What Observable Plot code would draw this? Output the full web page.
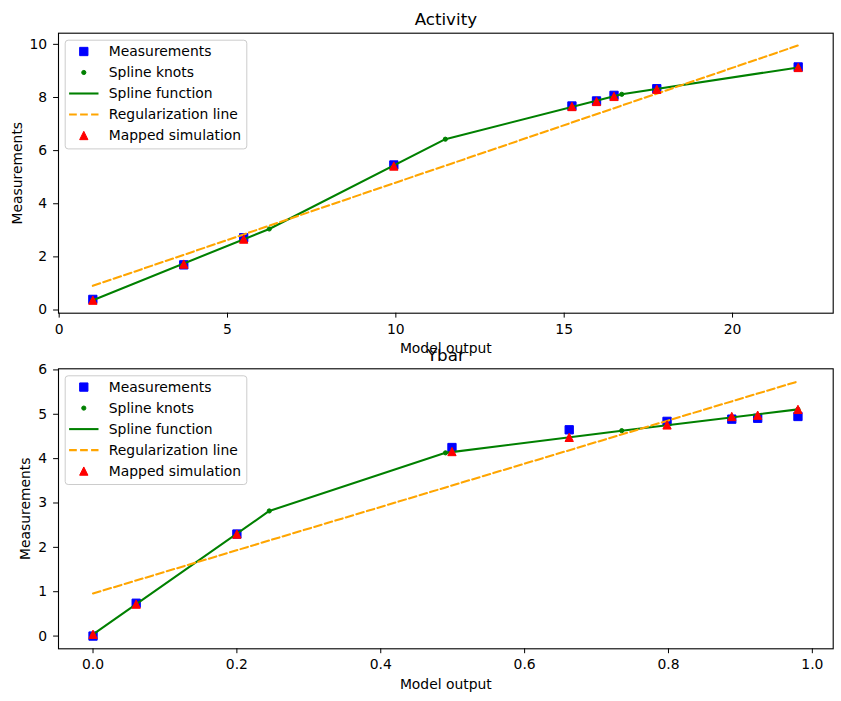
<!DOCTYPE html>
<html>
<head>
<meta charset="utf-8">
<script src="https://cdn.jsdelivr.net/npm/d3@7"></script>
<script src="https://cdn.jsdelivr.net/npm/@observablehq/plot@0.6"></script>
<style>
  html, body { margin: 0; padding: 0; background: white; }
  #figure { position: relative; width: 841px; height: 701px; }
  #figure svg { position: absolute; left: 0; top: 0; }
</style>
</head>
<body>
<div id="figure"></div>
<script>
// ---- Activity panel ----
const activityX = [1.0, 3.70, 5.48, 9.94, 15.23, 15.96, 16.48, 17.75, 21.95];
const activityMeasured = [0.40, 1.70, 2.72, 5.46, 7.68, 7.87, 8.08, 8.33, 9.15];
const activitySimulated = [0.37, 1.73, 2.67, 5.42, 7.66, 7.85, 8.04, 8.31, 9.13];
const activityKnotX = [1.0, 6.24, 11.47, 16.71, 21.95];
const activityKnotY = [0.37, 3.05, 6.43, 8.12, 9.13];
const activityRegX = [1.0, 21.95];
const activityRegY = [0.91, 9.96];
const activityXTicks = [0, 5, 10, 15, 20];
const activityYTicks = [0, 2, 4, 6, 8, 10];

// ---- Ybar panel ----
const ybarX = [0.0, 0.06, 0.20, 0.499, 0.662, 0.798, 0.888, 0.924, 0.98];
const ybarMeasured = [0.0, 0.74, 2.30, 4.25, 4.65, 4.84, 4.89, 4.91, 4.95];
const ybarSimulated = [0.04, 0.72, 2.30, 4.16, 4.48, 4.76, 4.95, 4.98, 5.11];
const ybarKnotX = [0.0, 0.245, 0.49, 0.735, 0.98];
const ybarKnotY = [0.04, 2.82, 4.13, 4.63, 5.11];
const ybarRegX = [0.0, 0.98];
const ybarRegY = [0.96, 5.74];
const ybarXTicks = [0, 0.2, 0.4, 0.6, 0.8, 1.0];
const ybarYTicks = [0, 1, 2, 3, 4, 5, 6];

// ---- Text ----
const panelTitles = ["Activity", "Ybar"];
const xLabel = "Model output";
const yLabel = "Measurements";
const legendLabels = ["Measurements", "Spline knots", "Spline function", "Regularization line", "Mapped simulation"];

const zip = (xs, ys) => xs.map((x, i) => ({x, y: ys[i]}));

// marker shapes
const triangleUp = {draw(ctx) { const h = 4.15; ctx.moveTo(0, -h); ctx.lineTo(-h, h); ctx.lineTo(h, h); ctx.closePath(); }};
const squareMarker = {draw(ctx) { const h = 4.15; ctx.rect(-h, -h, 2 * h, 2 * h); }};
const lineSample = {draw(ctx) { ctx.moveTo(-14.7, 0); ctx.lineTo(14.7, 0); }};

const BLUE = "#0000ff", RED = "#ff0000", GREEN = "#008000", ORANGE = "#ffa500";
const W = 841, H = 701;

function legendMarks() {
  const styles = [
    {symbol: squareMarker, fill: BLUE, stroke: BLUE, strokeWidth: 1},
    {symbol: "circle", r: 2.1, fill: GREEN, stroke: GREEN, strokeWidth: 1},
    {symbol: lineSample, fill: "none", stroke: GREEN, strokeWidth: 2.08},
    {symbol: lineSample, fill: "none", stroke: ORANGE, strokeWidth: 2.08, strokeDasharray: "7.7 3.3"},
    {symbol: triangleUp, fill: RED, stroke: RED, strokeWidth: 1}
  ];
  const marks = [
    Plot.frame({insetLeft: 6.7, insetTop: 7, insetRight: 586.4, insetBottom: 164.3, rx: 3,
      fill: "white", fillOpacity: 0.8, stroke: "#cccccc", strokeWidth: 1})
  ];
  legendLabels.forEach((label, i) => {
    const dy = 18.3 + 21 * i;
    marks.push(Plot.dot([label], {frameAnchor: "top-left", dx: 25.3, dy, ...styles[i]}));
    marks.push(Plot.text([label], {frameAnchor: "top-left", dx: 50.3, dy, text: d => d,
      textAnchor: "start", lineAnchor: "middle", fill: "black"}));
  });
  return marks;
}

function panel({title, xs, measured, simulated, knotX, knotY, regX, regY, xDomain, yDomain,
                xTicks, yTicks, xFormat, marginTop, marginBottom, yLabelDx}) {
  return Plot.plot({
    width: W,
    height: H,
    marginLeft: 58,
    marginRight: 8.3,
    marginTop,
    marginBottom,
    style: {background: "transparent", overflow: "visible", fontFamily: "'DejaVu Sans', sans-serif",
            fontSize: "13.9px", color: "black"},
    x: {domain: xDomain},
    y: {domain: yDomain},
    marks: [
      Plot.dot(zip(xs, measured), {x: "x", y: "y", symbol: squareMarker, fill: BLUE, stroke: BLUE, strokeWidth: 1}),
      Plot.dot(zip(knotX, knotY), {x: "x", y: "y", r: 2.1, fill: GREEN, stroke: GREEN, strokeWidth: 1}),
      Plot.line(zip(knotX, knotY), {x: "x", y: "y", stroke: GREEN, strokeWidth: 2.08}),
      Plot.line(zip(regX, regY), {x: "x", y: "y", stroke: ORANGE, strokeWidth: 2.08, strokeDasharray: "7.7 3.3"}),
      Plot.dot(zip(xs, simulated), {x: "x", y: "y", symbol: triangleUp, fill: RED, stroke: RED, strokeWidth: 1}),
      Plot.frame({stroke: "black", strokeWidth: 1.1}),
      Plot.axisX({ticks: xTicks, tickFormat: xFormat, tickSize: 4.9, tickPadding: 5.8, label: null, stroke: "black", fill: "black"}),
      Plot.axisY({ticks: yTicks, tickFormat: d3.format("d"), tickSize: 4.9, tickPadding: 6.4, label: null, stroke: "black", fill: "black"}),
      Plot.text([title], {frameAnchor: "top", dy: -8.3, text: d => d, lineAnchor: "bottom", fontSize: 16.7, fill: "black"}),
      Plot.text([xLabel], {frameAnchor: "bottom", dy: 39.7, text: d => d, lineAnchor: "bottom", fill: "black"}),
      Plot.text([yLabel], {frameAnchor: "left", dx: yLabelDx, text: d => d, rotate: -90,
        textAnchor: "middle", lineAnchor: "middle", fill: "black"}),
      ...legendMarks()
    ]
  });
}

const fig = document.getElementById("figure");

fig.append(panel({
  title: panelTitles[0],
  xs: activityX, measured: activityMeasured, simulated: activitySimulated,
  knotX: activityKnotX, knotY: activityKnotY, regX: activityRegX, regY: activityRegY,
  xDomain: [-0.02, 22.99], yDomain: [-0.12, 10.42],
  xTicks: activityXTicks, yTicks: activityYTicks, xFormat: d3.format("d"),
  marginTop: 32.7, marginBottom: H - 312.7, yLabelDx: -41.3
}));

fig.append(panel({
  title: panelTitles[1],
  xs: ybarX, measured: ybarMeasured, simulated: ybarSimulated,
  knotX: ybarKnotX, knotY: ybarKnotY, regX: ybarRegX, regY: ybarRegY,
  xDomain: [-0.048, 1.029], yDomain: [-0.287, 6.025],
  xTicks: ybarXTicks, yTicks: ybarYTicks, xFormat: d3.format(".1f"),
  marginTop: 368.3, marginBottom: H - 648.3, yLabelDx: -32.7
}));
</script>
</body>
</html>
